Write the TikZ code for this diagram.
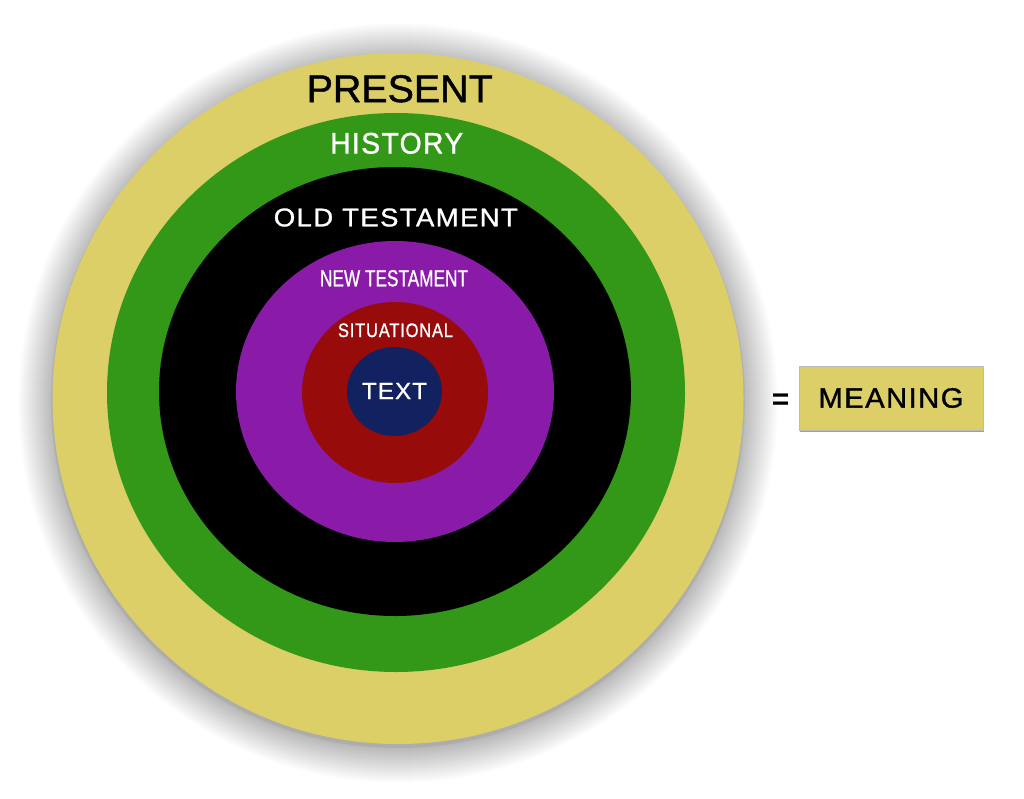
\documentclass[tikz,border=0pt]{standalone}
\usepackage{fontspec}
\setmainfont{Liberation Sans}
\newfontfamily\lblfont[FakeBold=1.1]{Liberation Sans}
\newfontfamily\lblfontsp[FakeBold=1.1,LetterSpace=5]{Liberation Sans}
\usepackage{graphicx}
\usetikzlibrary{shadows}
\definecolor{cyellow}{RGB}{220,207,103}
\definecolor{cgreen}{RGB}{51,151,24}
\definecolor{cpurple}{RGB}{138,26,168}
\definecolor{cred}{RGB}{152,11,11}
\definecolor{cnavy}{RGB}{18,33,96}
\newcommand\fitw[2]{\resizebox{#1pt}{\height}{#2}}
\begin{document}
\begin{tikzpicture}[x=1pt,y=-1pt,
  lbl/.style={inner sep=0pt, anchor=center},
  boxstyle/.style={draw=gray!55, line width=0.6pt, fill=cyellow, minimum width=184, minimum height=64, inner sep=0pt,
    general shadow={fill=gray!75, shadow xshift=1.2pt, shadow yshift=-1.6pt}}]
\useasboundingbox[fill=white] (0,0) rectangle (1024,799);
% soft shadow
\foreach \i in {1,...,36} {
  \fill[black, opacity=0.0085] (398,403) circle [radius=344+\i];
}
\fill[black, opacity=0.05] (398,401) circle [radius=347];
% rings
\fill[cyellow] (398,398.5) circle [radius=345.5];
\fill[cgreen] (396,392.5) ellipse [x radius=289, y radius=279.5];
\fill[black] (395,391.5) ellipse [x radius=236, y radius=224.5];
\fill[cpurple] (395,391.5) ellipse [x radius=159, y radius=150.5];
\fill[cred] (395,392.5) ellipse [x radius=93, y radius=90.5];
\fill[cnavy] (394.5,391.5) ellipse [x radius=47.5, y radius=44.5];
% labels
\node[lbl, text=black] (present) at (399.7,88.8) {\lblfont\fontsize{38.7}{40}\selectfont\fitw{186}{PRESENT}};
\node[lbl, text=white] (history) at (396.7,143.3) {\lblfontsp\fontsize{29.7}{31}\selectfont\fitw{133}{HISTORY}};
\node[lbl, text=white] (oldt) at (395.8,217.5) {\lblfontsp\fontsize{25.6}{27}\selectfont\fitw{244}{OLD TESTAMENT}};
\node[lbl, text=white] (newt) at (394,278.3) {\lblfont\fontsize{23.3}{25}\selectfont\fitw{148}{NEW TESTAMENT}};
\node[lbl, text=white] (situ) at (395.5,330.3) {\lblfontsp\fontsize{19.5}{21}\selectfont\fitw{115}{SITUATIONAL}};
\node[lbl, text=white] (text) at (394.5,391) {\lblfontsp\fontsize{23.3}{25}\selectfont\fitw{65}{TEXT}};
% result
\node[lbl, text=black] (eq) at (780.5,402) {\fontsize{30}{32}\selectfont\bfseries =};
\node[boxstyle] (meaning) at (891,398) {\lblfontsp\fontsize{28}{30}\selectfont\fitw{145}{MEANING}};
\end{tikzpicture}
\end{document}
